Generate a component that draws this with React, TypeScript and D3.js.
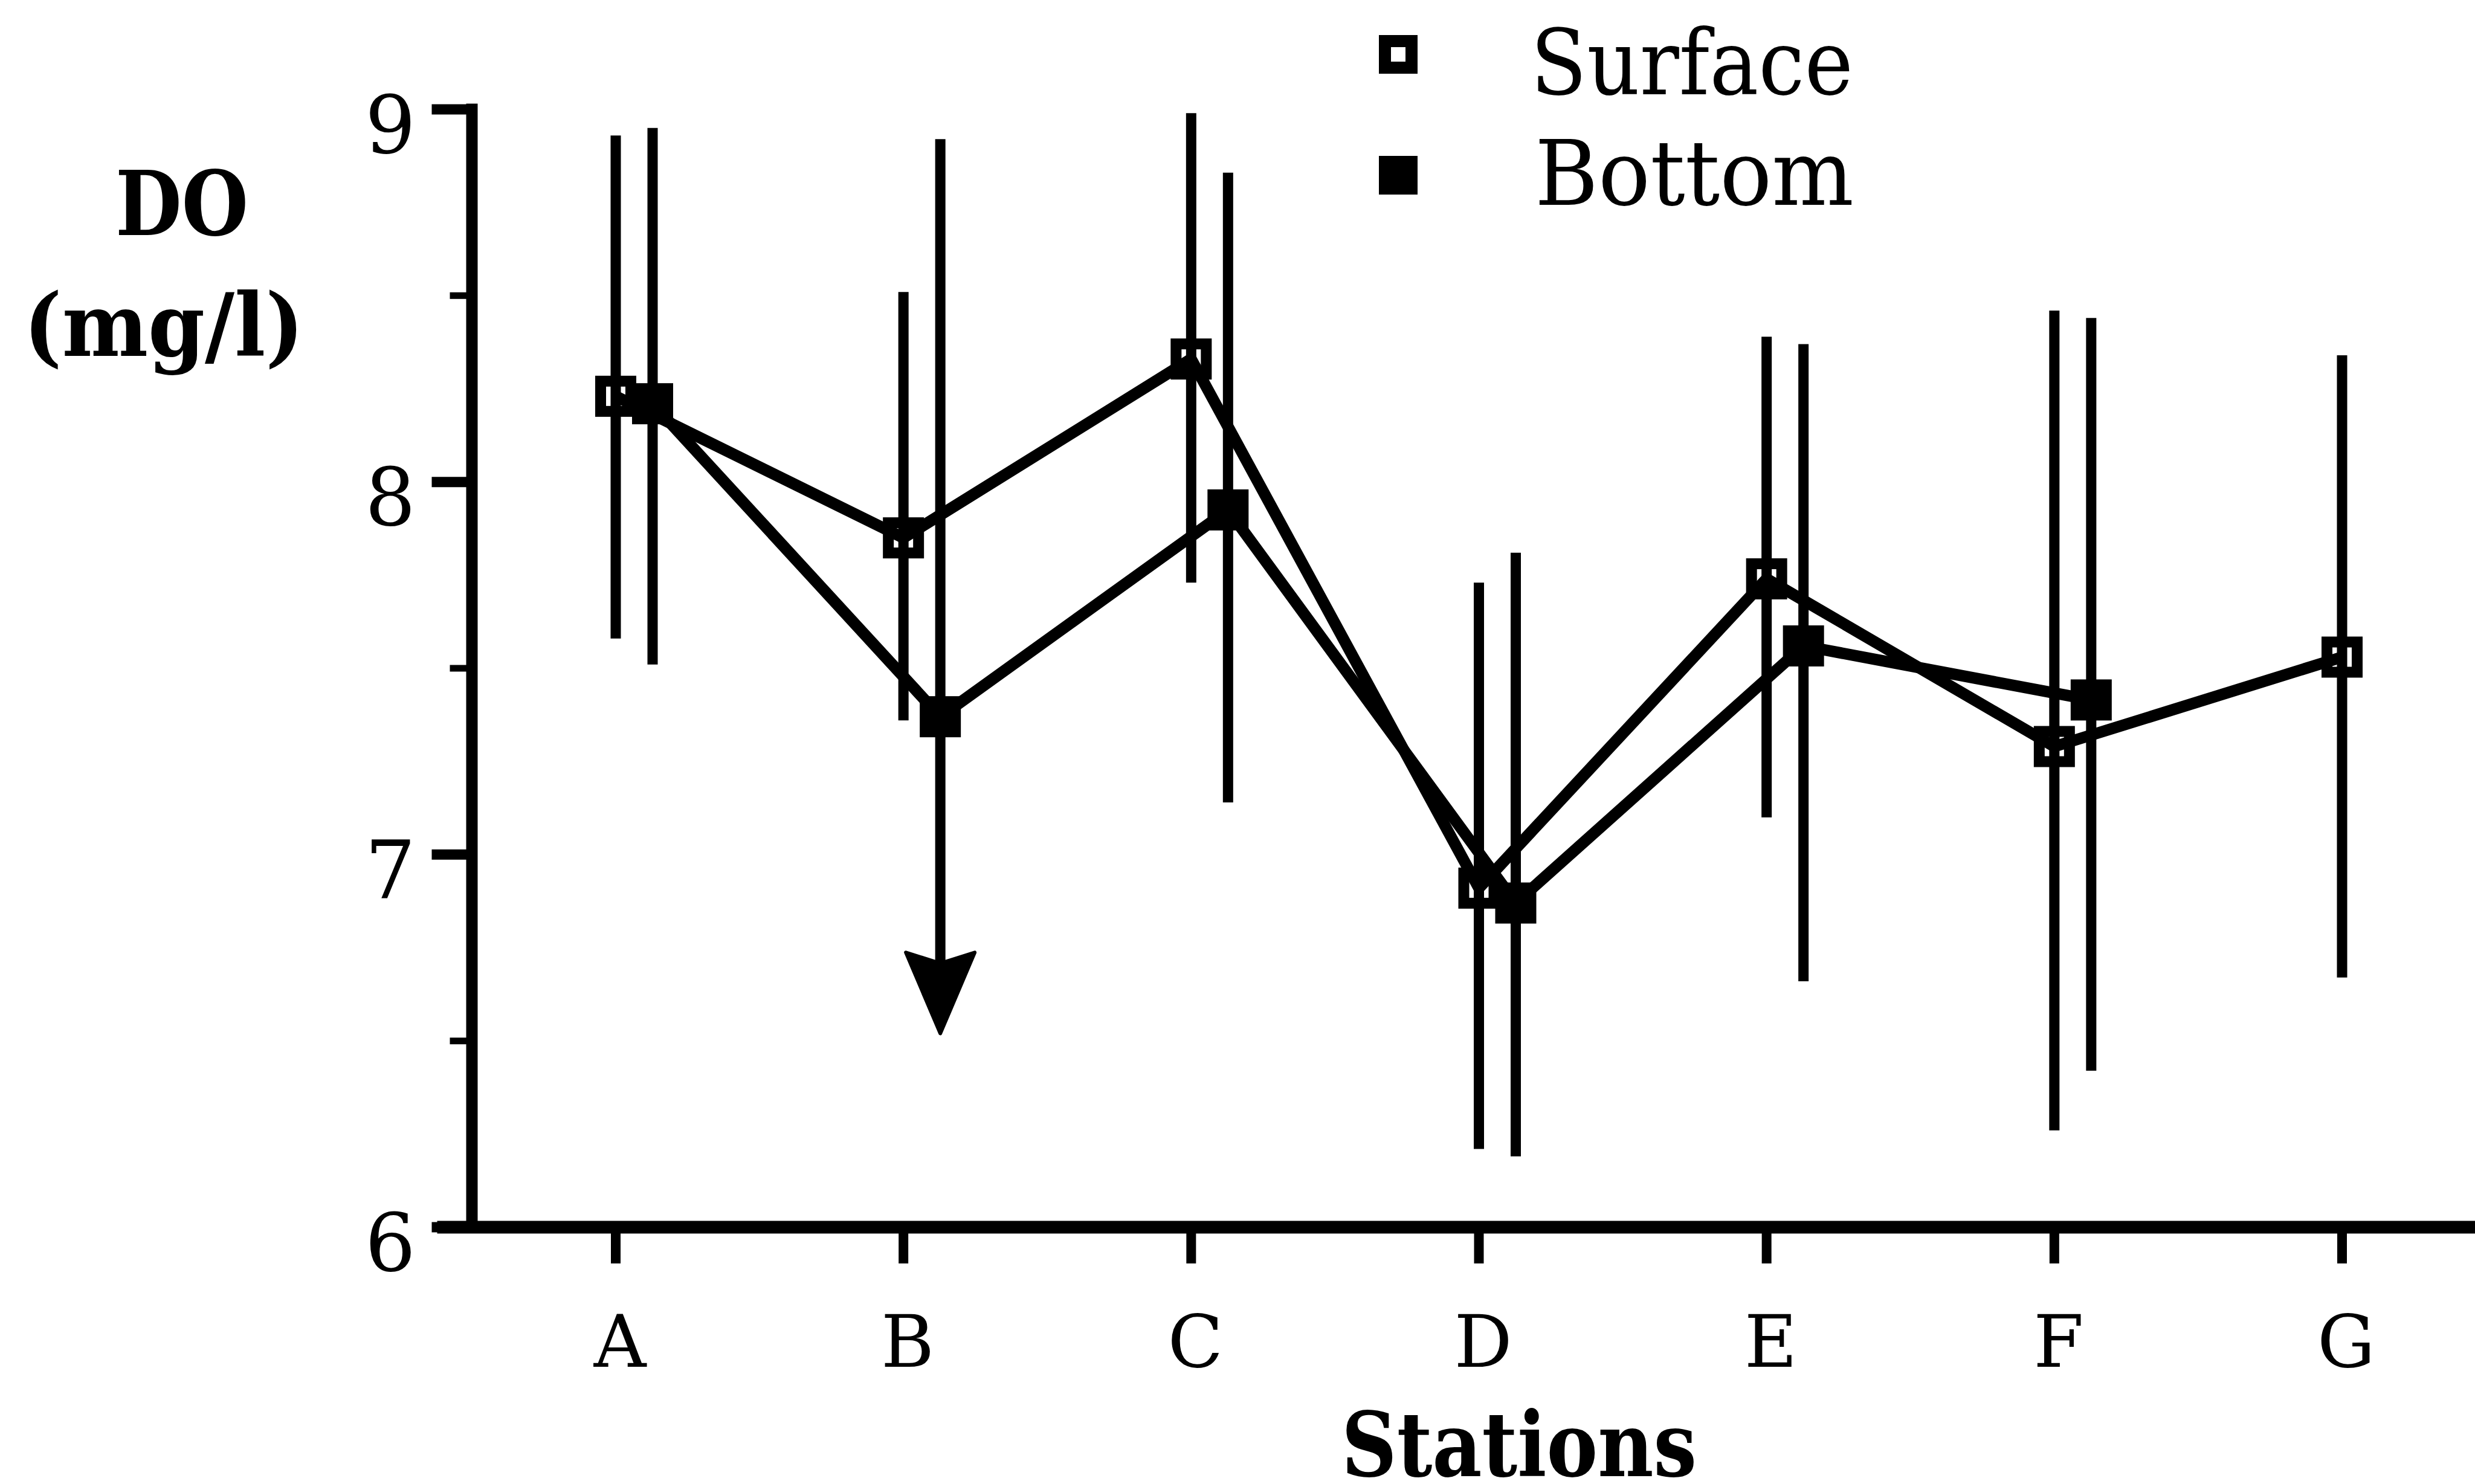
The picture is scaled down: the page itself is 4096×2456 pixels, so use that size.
import { useEffect, useRef } from 'react';
import * as d3 from 'd3';

const W = 4096;
const H = 2456;

// stations along the x axis
const stations = ['A', 'B', 'C', 'D', 'E', 'F', 'G'];

// surface DO (mg/l): mean and error-bar ends
const surfaceMean = [8.23, 7.85, 8.33, 6.91, 7.74, 7.29, 7.53];
const surfaceHigh = [8.93, 8.51, 8.99, 7.73, 8.39, 8.46, 8.34];
const surfaceLow = [7.58, 7.36, 7.73, 6.21, 7.10, 6.26, 6.67];

// bottom DO (mg/l), no reading at G
const bottomStations = ['A', 'B', 'C', 'D', 'E', 'F'];
const bottomMean = [8.21, 7.37, 7.925, 6.87, 7.56, 7.415];
const bottomHigh = [8.95, 8.92, 8.83, 7.81, 8.37, 8.44];
const bottomLow = [7.51, 6.52, 7.14, 6.19, 6.66, 6.42];
// low end runs off (drawn as an arrow)
const bottomOpenLow = ['B'];

const yMajor = [6, 7, 8, 9];
const yMinor = [6.5, 7.5, 8.5];

export default function App() {
  const ref = useRef<SVGSVGElement>(null);

  useEffect(() => {
    document.body.style.margin = '0';
    const svg = d3.select(ref.current);
    svg.selectAll('*').remove();

    const x = d3.scalePoint<string>().domain(stations).range([1019, 3876]);
    const y = d3.scaleLinear().domain([6, 9]).range([2031, 181]);
    const off = 61; // bottom series sits just right of the station
    const serif = '"DejaVu Serif", serif';
    const axisX = 781;

    svg.append('rect').attr('width', W).attr('height', H).attr('fill', '#fff');

    // ── axes ──────────────────────────────
    const ax = svg.append('g').attr('stroke', '#000').attr('stroke-linecap', 'square');
    ax.append('line')
      .attr('x1', axisX).attr('x2', axisX)
      .attr('y1', y(9)).attr('y2', y(6))
      .attr('stroke-width', 19);
    ax.append('line')
      .attr('x1', 734).attr('x2', W + 20)
      .attr('y1', y(6)).attr('y2', y(6))
      .attr('stroke-width', 21);

    ax.selectAll('.maj').data(yMajor).join('line')
      .attr('x1', axisX - 58).attr('x2', axisX)
      .attr('y1', d => y(d)).attr('y2', d => y(d))
      .attr('stroke-width', 17);
    ax.selectAll('.min').data(yMinor).join('line')
      .attr('x1', axisX - 31).attr('x2', axisX)
      .attr('y1', d => y(d)).attr('y2', d => y(d))
      .attr('stroke-width', 11);
    ax.selectAll('.xt').data(stations).join('line')
      .attr('x1', d => x(d)!).attr('x2', d => x(d)!)
      .attr('y1', y(6)).attr('y2', y(6) + 60)
      .attr('stroke-width', 16)
      .attr('stroke-linecap', 'butt');

    svg.append('g').selectAll('text').data(yMajor).join('text')
      .attr('x', 688).attr('y', d => y(d) + 24).attr('dy', '0.36em')
      .attr('text-anchor', 'end')
      .attr('font-family', serif).attr('font-size', 132)
      .text(d => d);

    svg.append('g').selectAll('text').data(stations).join('text')
      .attr('x', d => x(d)! + 7).attr('y', 2262)
      .attr('text-anchor', 'middle')
      .attr('font-family', serif).attr('font-size', 120)
      .text(d => d);

    svg.append('text')
      .attr('x', 2220).attr('y', 2443)
      .attr('font-family', serif).attr('font-weight', 'bold')
      .attr('font-size', 148)
      .attr('textLength', 588).attr('lengthAdjust', 'spacingAndGlyphs')
      .text('Stations');
    svg.append('text')
      .attr('x', 191).attr('y', 389)
      .attr('font-family', serif).attr('font-weight', 'bold').attr('font-size', 148)
      .attr('textLength', 220).attr('lengthAdjust', 'spacingAndGlyphs')
      .text('DO');
    svg.append('text')
      .attr('x', 39).attr('y', 589)
      .attr('font-family', serif).attr('font-weight', 'bold').attr('font-size', 145)
      .attr('textLength', 464).attr('lengthAdjust', 'spacingAndGlyphs')
      .text('(mg/l)');

    // ── error bars ─────────────────────────
    const bars = svg.append('g').attr('stroke', '#000').attr('stroke-width', 17);
    bars.selectAll('.sb').data(stations).join('line')
      .attr('x1', d => x(d)!).attr('x2', d => x(d)!)
      .attr('y1', (_, i) => y(surfaceHigh[i]))
      .attr('y2', (_, i) => y(surfaceLow[i]));

    const arrowLen = 134;
    bars.selectAll('.bb').data(bottomStations).join('line')
      .attr('x1', d => x(d)! + off).attr('x2', d => x(d)! + off)
      .attr('y1', (_, i) => y(bottomHigh[i]))
      .attr('y2', (d, i) => y(bottomLow[i]) - (bottomOpenLow.includes(d) ? arrowLen - 20 : 0));

    const arrow = d3.path();
    arrow.moveTo(0, 0);
    arrow.lineTo(-57, -arrowLen);
    arrow.lineTo(0, -arrowLen + 18);
    arrow.lineTo(57, -arrowLen);
    arrow.closePath();
    svg.append('g').selectAll('path')
      .data(bottomStations.filter(d => bottomOpenLow.includes(d)))
      .join('path')
      .attr('transform', d => `translate(${x(d)! + off},${y(bottomLow[bottomStations.indexOf(d)])})`)
      .attr('d', arrow.toString())
      .attr('fill', '#000').attr('stroke', '#000').attr('stroke-width', 6)
      .attr('stroke-linejoin', 'round');

    // ── series lines ───────────────────────
    const line = d3.line<[number, number]>();
    const surfPts = stations.map((s, i) => [x(s)!, y(surfaceMean[i])] as [number, number]);
    const botPts = bottomStations.map((s, i) => [x(s)! + off, y(bottomMean[i])] as [number, number]);
    [surfPts, botPts].forEach(pts => {
      svg.append('path').attr('d', line(pts))
        .attr('fill', 'none').attr('stroke', '#000').attr('stroke-width', 19)
        .attr('stroke-linejoin', 'round');
    });

    // ── markers ────────────────────────────
    const ms = 68;
    const bw = 18;
    svg.append('g').selectAll('rect').data(surfPts).join('rect')
      .attr('x', d => d[0] - ms / 2 + bw / 2).attr('y', d => d[1] - ms / 2 + bw / 2)
      .attr('width', ms - bw).attr('height', ms - bw)
      .attr('fill', 'none').attr('stroke', '#000').attr('stroke-width', bw);
    svg.append('g').selectAll('rect').data(botPts).join('rect')
      .attr('x', d => d[0] - ms / 2).attr('y', d => d[1] - ms / 2)
      .attr('width', ms).attr('height', ms)
      .attr('fill', '#000');

    // ── legend ─────────────────────────────
    const lg = svg.append('g');
    const lm = 64;
    lg.append('rect')
      .attr('x', 2314 - lm / 2 + 10).attr('y', 90 - lm / 2 + 10)
      .attr('width', lm - 20).attr('height', lm - 20)
      .attr('fill', 'none').attr('stroke', '#000').attr('stroke-width', 20);
    lg.append('rect')
      .attr('x', 2314 - lm / 2).attr('y', 290 - lm / 2)
      .attr('width', lm).attr('height', lm).attr('fill', '#000');
    lg.append('text').attr('x', 2533).attr('y', 156)
      .attr('font-family', serif).attr('font-size', 150)
      .attr('textLength', 534).attr('lengthAdjust', 'spacingAndGlyphs')
      .text('Surface');
    lg.append('text').attr('x', 2540).attr('y', 339)
      .attr('font-family', serif).attr('font-size', 150)
      .attr('textLength', 528).attr('lengthAdjust', 'spacingAndGlyphs')
      .text('Bottom');
  }, []);

  return <svg ref={ref} width={W} height={H} style={{ display: 'block' }} />;
}
